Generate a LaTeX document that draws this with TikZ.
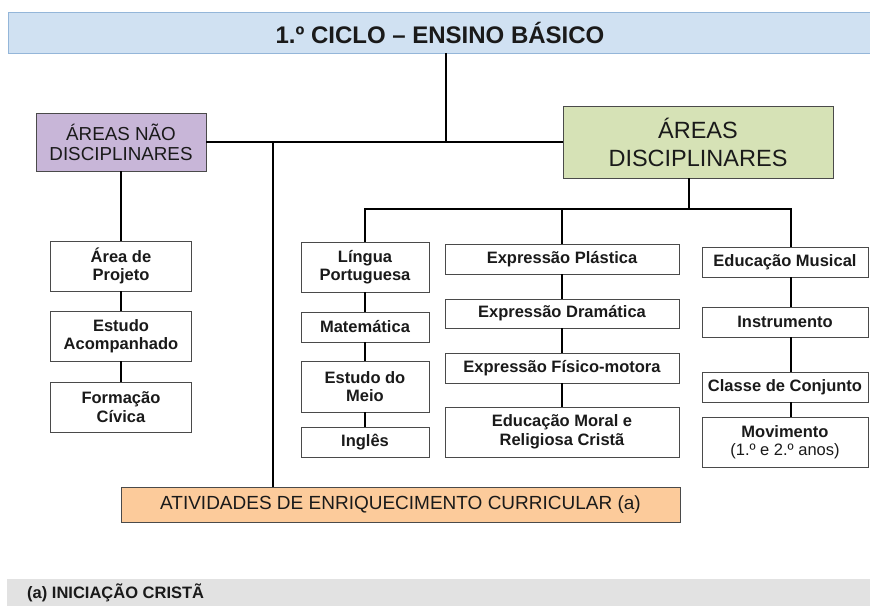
\documentclass[tikz,border=0pt]{standalone}
\usepackage{fontspec}
\setmainfont{Liberation Sans}
\definecolor{titlefill}{HTML}{D0E1F2}
\definecolor{titleline}{HTML}{94B6D9}
\definecolor{naofill}{HTML}{C8B6D8}
\definecolor{discfill}{HTML}{D6E2B6}
\definecolor{aecfill}{HTML}{FCCB9B}
\definecolor{bandfill}{HTML}{E2E2E2}
\definecolor{boxline}{HTML}{4A4A4A}
\definecolor{ink}{HTML}{1A1A1A}
\begin{document}
\begin{tikzpicture}[x=1pt,y=-1pt,
  box/.style={draw=boxline, line width=0.9pt, fill=white, align=center, inner sep=0pt, text=ink,
    font=\fontsize{16.5}{18.5}\selectfont\bfseries},
  head/.style={draw=boxline, line width=0.9pt, align=center, inner sep=0pt, text=ink},
  conn/.style={line width=2.7pt, black}]
\useasboundingbox (0,0) rectangle (870,605);
\clip (0,0) rectangle (870,605);

% title
\node[draw=titleline, line width=0.9pt, fill=titlefill, inner sep=0pt, text=ink,
  minimum width=864pt, minimum height=41pt, font=\fontsize{24}{28}\selectfont\bfseries]
  (title) at (440,32.5) {1.º CICLO – ENSINO BÁSICO};

% main areas
\node[head, fill=naofill, minimum width=170pt, minimum height=58pt,
  font=\fontsize{18.8}{20}\selectfont] (nao) at (121,142) {ÁREAS NÃO\\DISCIPLINARES};
\node[head, fill=discfill, minimum width=270pt, minimum height=72pt,
  font=\fontsize{23.5}{28}\selectfont] (disc) at (698,142) {ÁREAS\\DISCIPLINARES};

% non-disciplinary column
\node[box, minimum width=141pt, minimum height=50pt] (ap) at (121,266) {Área de\\Projeto};
\node[box, minimum width=141pt, minimum height=50pt] (ea) at (121,336) {Estudo\\Acompanhado};
\node[box, minimum width=141pt, minimum height=50pt] (fc) at (121,407) {Formação\\Cívica};

% column 1
\node[box, minimum width=128pt, minimum height=50pt] (lp) at (365,267) {Língua\\Portuguesa};
\node[box, minimum width=128pt, minimum height=30pt] (mat) at (365,327) {Matemática};
\node[box, minimum width=128pt, minimum height=51pt] (em) at (365,386.5) {Estudo do\\Meio};
\node[box, minimum width=128pt, minimum height=30pt] (ing) at (365,442) {Inglês};

% column 2
\node[box, minimum width=234pt, minimum height=30pt] (ep) at (562,259) {Expressão Plástica};
\node[box, minimum width=234pt, minimum height=29pt] (ed) at (562,313.5) {Expressão Dramática};
\node[box, minimum width=234pt, minimum height=30pt] (efm) at (562,368) {Expressão Físico-motora};
\node[box, minimum width=234pt, minimum height=50pt] (emr) at (562,432) {Educação Moral e\\Religiosa Cristã};

% column 3
\node[box, minimum width=166pt, minimum height=30pt] (mus) at (785,262) {Educação Musical};
\node[box, minimum width=166pt, minimum height=30pt] (ins) at (785,322) {Instrumento};
\node[box, minimum width=166pt, minimum height=30pt] (cc) at (785,387) {Classe de Conjunto};
\node[box, minimum width=166pt, minimum height=50pt] (mov) at (785,442) {Movimento\\{\mdseries (1.º e 2.º anos)}};

% enrichment
\node[head, fill=aecfill, minimum width=559pt, minimum height=35pt,
  font=\fontsize{19}{22}\selectfont] (aec) at (400.5,504.5) {ATIVIDADES DE ENRIQUECIMENTO CURRICULAR (a)};

% footnote band
\node[fill=bandfill, inner sep=0pt, minimum width=870pt, minimum height=30pt] (band) at (442,594) {};
\node[anchor=base west, inner sep=0pt, text=ink, font=\fontsize{16.5}{18}\selectfont\bfseries]
  (note) at (27,598) {(a) INICIAÇÃO CRISTÃ};

% connectors
\coordinate (j1) at (446,142);
\coordinate (j2) at (273,142);
\coordinate (j3) at (689,209);
\coordinate (j4) at (791,209);
\draw[conn] (title.south -| j1) -- (j1);
\draw[conn] (nao.east) -- (disc.west);
\draw[conn] (j2) -- (j2 |- aec.north);
\draw[conn] (nao.south) -- (ap.north);
\draw[conn] (ap.south) -- (ea.north);
\draw[conn] (ea.south) -- (fc.north);
\draw[conn] (disc.south -| j3) -- (j3);
\draw[conn] (lp.north) |- (j4) -- (j4 |- mus.north);
\draw[conn] (ep.north |- j3) -- (ep.north);
\draw[conn] (lp.south) -- (mat.north);
\draw[conn] (mat.south) -- (em.north);
\draw[conn] (em.south) -- (ing.north);
\draw[conn] (ep.south) -- (ed.north);
\draw[conn] (ed.south) -- (efm.north);
\draw[conn] (efm.south) -- (emr.north);
\draw[conn] (j4 |- mus.south) -- (j4 |- ins.north);
\draw[conn] (j4 |- ins.south) -- (j4 |- cc.north);
\draw[conn] (j4 |- cc.south) -- (j4 |- mov.north);
\end{tikzpicture}
\end{document}
